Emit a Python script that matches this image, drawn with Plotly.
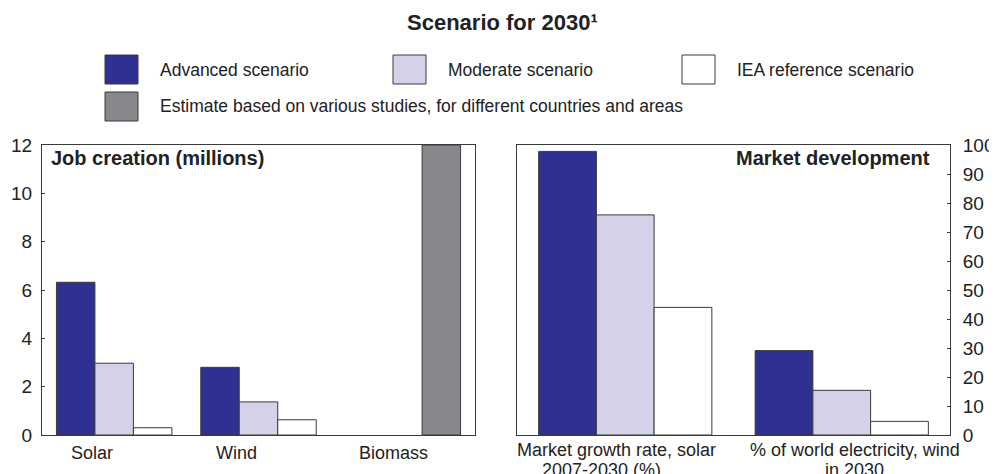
import plotly.graph_objects as go

W, H = 997, 474
OX, OY = 8, 8  # default page (body) margin of the written html page

# ---- data ----
title_text = "Scenario for 2030¹"
series_names = ["Advanced scenario", "Moderate scenario", "IEA reference scenario",
                "Estimate based on various studies, for different countries and areas"]

job_categories = ["Solar", "Wind", "Biomass"]
job_advanced = [6.32, 2.80, None]
job_moderate = [2.97, 1.37, None]
job_iea = [0.30, 0.63, None]
job_estimate_cat = ["Biomass"]
job_estimate = [12.0]
job_ticks = [0, 2, 4, 6, 8, 10, 12]

mkt_categories = ["Market growth rate, solar<br>2007-2030 (%)",
                  "% of world electricity, wind<br>in 2030"]
mkt_advanced = [97.8, 29.1]
mkt_moderate = [75.9, 15.4]
mkt_iea = [44.0, 4.7]
mkt_ticks = list(range(0, 101, 10))

# ---- styles ----
C_ADV = "#2e3192"
C_MOD = "#d3d2e8"
C_IEA = "#ffffff"
C_EST = "#87888c"
EDGE = "#3a3a3a"
TXT = "#222222"
FONT = "Liberation Sans, Arial, sans-serif"

# horizontal nudges (px) of the category labels, per label line
job_label_shift = [-22, -22, -9]
mkt_label_shift = [[-9, -24], [13, 13]]


def px(x):
    return (x - OX) / W


def py(y):
    return 1 - (y - OY) / H


fig = go.Figure()


def bar(x, y, color, og, ag, xa, ya, name):
    return go.Bar(x=x, y=y, name=name, marker=dict(color=color, line=dict(color=EDGE, width=1)),
                  offsetgroup=og, alignmentgroup=ag, xaxis=xa, yaxis=ya, showlegend=False)


fig.add_trace(bar(job_categories, job_advanced, C_ADV, "a", "L", "x", "y", series_names[0]))
fig.add_trace(bar(job_categories, job_moderate, C_MOD, "b", "L", "x", "y", series_names[1]))
fig.add_trace(bar(job_categories, job_iea, C_IEA, "c", "L", "x", "y", series_names[2]))
fig.add_trace(bar(job_estimate_cat, job_estimate, C_EST, "c", "L", "x", "y", series_names[3]))

fig.add_trace(bar(mkt_categories, mkt_advanced, C_ADV, "a", "R", "x2", "y2", series_names[0]))
fig.add_trace(bar(mkt_categories, mkt_moderate, C_MOD, "b", "R", "x2", "y2", series_names[1]))
fig.add_trace(bar(mkt_categories, mkt_iea, C_IEA, "c", "R", "x2", "y2", series_names[2]))

axis_common = dict(showline=True, linecolor=EDGE, linewidth=1, mirror=True, showgrid=False,
                   zeroline=False, automargin=False)
tick_font = dict(family=FONT, size=19, color=TXT)

ydom = [py(435), py(145)]

fig.update_layout(
    template="none",
    width=W, height=H,
    margin=dict(l=0, r=0, t=0, b=0),
    paper_bgcolor="white", plot_bgcolor="white",
    barmode="group", bargap=0.2, bargroupgap=0,
    showlegend=False,
    font=dict(family=FONT, color=TXT),
    xaxis=dict(domain=[px(42), px(475)], range=[-0.5, 2.5], ticks="", showticklabels=False,
               anchor="y", categoryorder="array", categoryarray=job_categories, **axis_common),
    yaxis=dict(domain=ydom, range=[0, 12], tickvals=job_ticks, ticks="inside", ticklen=3,
               tickcolor=EDGE, anchor="x", tickfont=tick_font, ticklabelstandoff=5, **axis_common),
    xaxis2=dict(domain=[px(517), px(950)], range=[-0.5, 1.5], ticks="", showticklabels=False,
                anchor="y2", categoryorder="array", categoryarray=mkt_categories, **axis_common),
    yaxis2=dict(domain=ydom, range=[0, 100], tickvals=mkt_ticks, ticks="inside", ticklen=3,
                tickcolor=EDGE, side="right", anchor="x2", tickfont=tick_font,
                ticklabelstandoff=8, **axis_common),
)

annotations = [
    dict(text="<b>" + title_text + "</b>", x=px(502), y=py(23), xref="paper", yref="paper",
         xanchor="center", yanchor="middle", showarrow=False, font=dict(family=FONT, size=22, color=TXT)),
    dict(text="<b>Job creation (millions)</b>", x=px(49), y=py(158), xref="paper", yref="paper",
         xanchor="left", yanchor="middle", showarrow=False, font=dict(family=FONT, size=20, color=TXT)),
    dict(text="<b>Market development</b>", x=px(932), y=py(158), xref="paper", yref="paper",
         xanchor="right", yanchor="middle", showarrow=False, font=dict(family=FONT, size=20, color=TXT)),
]

# category labels, anchored on the category axes
cat_font = dict(family=FONT, size=18, color=TXT)
for cat, sh in zip(job_categories, job_label_shift):
    annotations.append(dict(text=cat, x=cat, xref="x", y=py(453), yref="paper", xshift=sh,
                            xanchor="center", yanchor="middle", showarrow=False, font=cat_font))
line_y = [450, 470]
for cat, shifts in zip(mkt_categories, mkt_label_shift):
    for line, ly, sh in zip(cat.split("<br>"), line_y, shifts):
        annotations.append(dict(text=line, x=cat, xref="x2", y=py(ly), yref="paper", xshift=sh,
                                xanchor="center", yanchor="middle", showarrow=False, font=cat_font))

# legend (custom layout: swatch boxes + labels)
legend_items = [
    (series_names[0], C_ADV, 105, 55),
    (series_names[1], C_MOD, 393, 55),
    (series_names[2], C_IEA, 682, 55),
    (series_names[3], C_EST, 105, 92),
]
shapes = []
for name, col, x0, y0 in legend_items:
    shapes.append(dict(type="rect", xref="paper", yref="paper",
                       x0=px(x0), x1=px(x0 + 33), y0=py(y0 + 29), y1=py(y0),
                       fillcolor=col, line=dict(color=EDGE, width=1)))
    annotations.append(dict(text=name, x=px(x0 + 53), y=py(y0 + 14.5), xref="paper", yref="paper",
                            xanchor="left", yanchor="middle", showarrow=False,
                            font=dict(family=FONT, size=17.5, color=TXT)))

fig.update_layout(annotations=annotations, shapes=shapes)

fig.write_html("out.html")
